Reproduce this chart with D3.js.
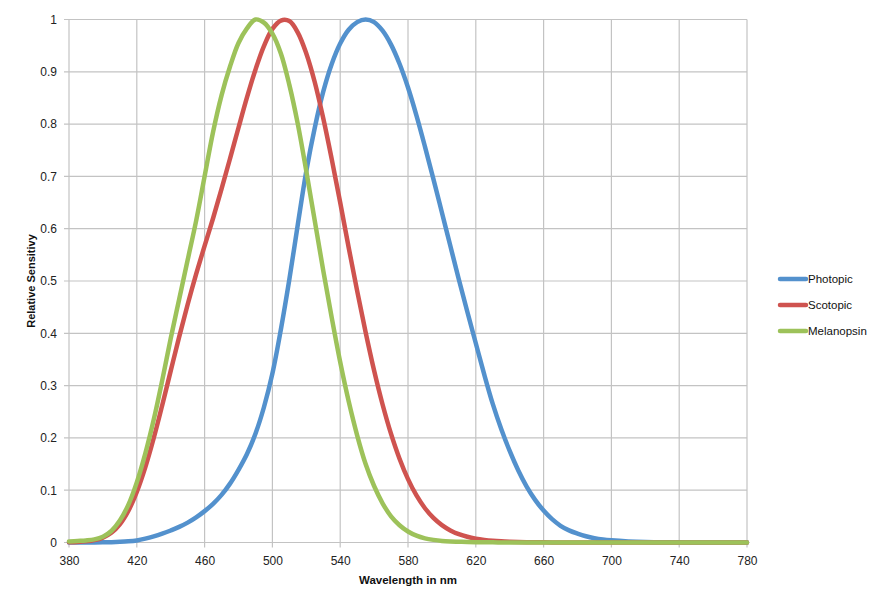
<!DOCTYPE html>
<html>
<head>
<meta charset="utf-8">
<script src="https://cdn.jsdelivr.net/npm/d3@7"></script>
<style>
  html, body { margin: 0; padding: 0; background: #fff; }
  svg { display: block; font-family: "Liberation Sans", Arial, sans-serif; }
</style>
</head>
<body>
<svg id="chart" width="894" height="600"></svg>
<script>
// Wavelength grid (nm)
const wavelengths = [380,385,390,395,400,405,410,415,420,425,430,435,440,445,450,455,460,465,470,475,480,485,490,495,500,505,510,515,520,525,530,535,540,545,550,555,560,565,570,575,580,585,590,595,600,605,610,615,620,625,630,635,640,645,650,655,660,665,670,675,680,685,690,695,700,710,720,730,740,750,760,770,780];

const photopic = [0.000039,0.000064,0.00012,0.000217,0.000396,0.00064,0.00121,0.00218,0.004,0.0073,0.0116,0.01684,0.023,0.0298,0.038,0.048,0.06,0.0739,0.091,0.1126,0.139,0.1693,0.208,0.2586,0.323,0.4073,0.503,0.6082,0.71,0.7932,0.862,0.9149,0.954,0.9803,0.995,1.0,0.995,0.9786,0.952,0.9154,0.87,0.8163,0.757,0.6949,0.631,0.5668,0.503,0.4412,0.381,0.321,0.265,0.217,0.175,0.1382,0.107,0.0816,0.061,0.0446,0.032,0.0232,0.017,0.0119,0.0082,0.0057,0.0041,0.0021,0.001,0.0005,0.00025,0.00012,0.00006,0.00003,0.000015];

const scotopic = [0.0006,0.0011,0.0022,0.0045,0.0093,0.0185,0.0348,0.0604,0.0966,0.1436,0.1998,0.2625,0.3281,0.3931,0.455,0.513,0.567,0.62,0.676,0.734,0.793,0.851,0.904,0.949,0.982,0.998,0.997,0.975,0.935,0.88,0.811,0.733,0.65,0.564,0.481,0.402,0.3288,0.2639,0.2076,0.1602,0.1212,0.0899,0.0655,0.0469,0.0332,0.0231,0.0159,0.0109,0.0074,0.005,0.0033,0.0022,0.0015,0.001,0.0007,0.0005,0.0003,0.0002,0.00015,0.0001,0.00007,0.00005,0.00004,0.00003,0.00002,0.00001,0,0,0,0,0,0,0];

const melanopsin = [0.002,0.003,0.004,0.006,0.011,0.022,0.042,0.072,0.115,0.17,0.235,0.31,0.39,0.465,0.54,0.615,0.7,0.785,0.855,0.91,0.955,0.983,1.0,0.994,0.973,0.935,0.875,0.8,0.71,0.615,0.52,0.43,0.345,0.27,0.205,0.15,0.108,0.075,0.05,0.033,0.021,0.013,0.008,0.005,0.003,0.002,0.0015,0.001,0.0007,0.0005,0.0003,0.0002,0.0001,0.00005,0,0,0,0,0,0,0,0,0,0,0,0,0,0,0,0,0,0,0];

const seriesNames = ["Photopic", "Scotopic", "Melanopsin"];
const seriesColors = ["#5391cd", "#cf534f", "#9dc25a"];
const seriesValues = [photopic, scotopic, melanopsin];

const xTicks = [380,420,460,500,540,580,620,660,700,740,780];
const yTicks = [0,0.1,0.2,0.3,0.4,0.5,0.6,0.7,0.8,0.9,1];

const xTitle = "Wavelength in nm";
const yTitle = "Relative Sensitivy";

(function () {
const svg = d3.select("#chart");
const mLeft = 69, mRight = 747, mTop = 19.5, mBottom = 542.5;

const x = d3.scaleLinear().domain([380, 780]).range([mLeft, mRight]);
const y = d3.scaleLinear().domain([0, 1]).range([mBottom, mTop]);

const gridColor = "#c3c3c3";

// Gridlines
svg.append("g").selectAll("line").data(xTicks).join("line")
  .attr("x1", d => x(d)).attr("x2", d => x(d))
  .attr("y1", mTop).attr("y2", mBottom + 5)
  .attr("stroke", gridColor).attr("stroke-width", 1.2);
svg.append("g").selectAll("line").data(yTicks).join("line")
  .attr("x1", mLeft - 5).attr("x2", mRight)
  .attr("y1", d => y(d)).attr("y2", d => y(d))
  .attr("stroke", gridColor).attr("stroke-width", 1.2);

// Axis labels
const xAxis = d3.axisBottom(x).tickValues(xTicks).tickFormat(d3.format("d")).tickSize(0).tickPadding(14);
const gx = svg.append("g").attr("transform", `translate(0,${mBottom})`).call(xAxis);
gx.select(".domain").remove();
gx.selectAll("text").attr("font-size", 12).attr("fill", "#222").attr("font-family", "Liberation Sans, Arial, sans-serif");

const yAxis = d3.axisLeft(y).tickValues(yTicks).tickFormat(d => d === 0 || d === 1 ? String(d) : d3.format(".1f")(d)).tickSize(0).tickPadding(12);
const gy = svg.append("g").attr("transform", `translate(${mLeft},0)`).call(yAxis);
gy.select(".domain").remove();
gy.selectAll("text").attr("font-size", 12).attr("fill", "#222").attr("font-family", "Liberation Sans, Arial, sans-serif");

// Titles
svg.append("text").attr("x", (mLeft + mRight) / 2).attr("y", 584)
  .attr("text-anchor", "middle").attr("font-size", 11.5).attr("font-weight", "bold").attr("fill", "#111")
  .text(xTitle);
svg.append("text").attr("transform", `translate(35,${(mTop + mBottom) / 2}) rotate(-90)`)
  .attr("text-anchor", "middle").attr("font-size", 11).attr("font-weight", "bold").attr("fill", "#111")
  .text(yTitle);

// Lines
const line = d3.line().x(d => x(d[0])).y(d => y(d[1])).curve(d3.curveCatmullRom.alpha(0.5));
seriesValues.forEach((vals, i) => {
  const pts = wavelengths.map((w, j) => [w, vals[j]]);
  svg.append("path").datum(pts)
    .attr("fill", "none").attr("stroke", seriesColors[i]).attr("stroke-width", 4.5)
    .attr("stroke-linejoin", "round").attr("stroke-linecap", "round")
    .attr("d", line);
});

// Legend
const legY = [279, 305, 331];
const leg = svg.append("g");
seriesNames.forEach((n, i) => {
  leg.append("line").attr("x1", 780).attr("x2", 806).attr("y1", legY[i]).attr("y2", legY[i])
    .attr("stroke", seriesColors[i]).attr("stroke-width", 4.5).attr("stroke-linecap", "round");
  leg.append("text").attr("x", 808).attr("y", legY[i] + 4).attr("font-size", 11.5).attr("fill", "#111").text(n);
});
})();
</script>
</body>
</html>
